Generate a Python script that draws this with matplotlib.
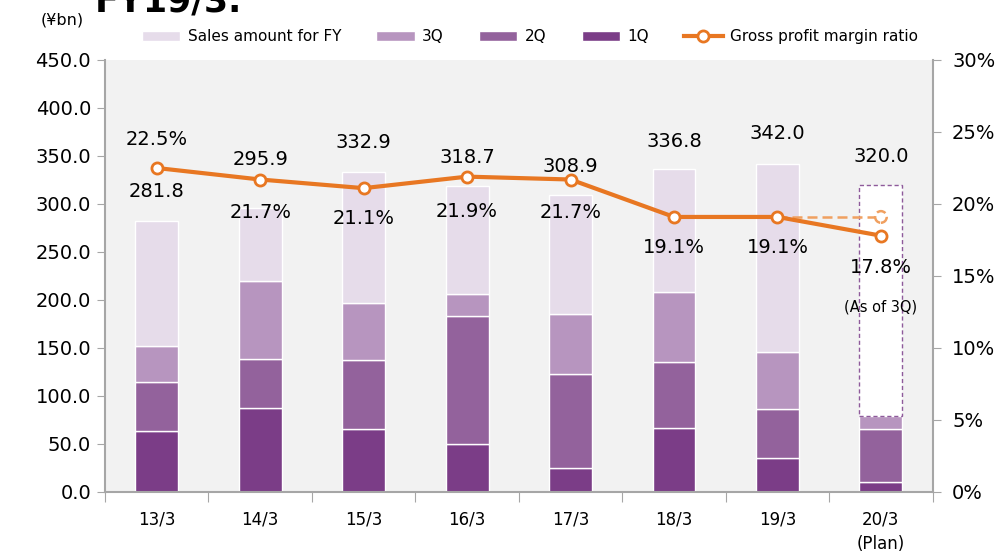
import matplotlib.pyplot as plt
import numpy as np

# Sales by quarter (¥bn) and gross profit margin (%)
years = ['13/3', '14/3', '15/3', '16/3', '17/3', '18/3', '19/3', '20/3\n(Plan)']
q1 = [63.4, 87.6, 65.9, 50.0, 25.5, 66.9, 35.5, 10.7]
q2 = [51.1, 51.4, 71.7, 133.8, 97.9, 68.6, 51.1, 55.2]
q3 = [37.9, 80.3, 59.6, 22.1, 62.1, 72.8, 59.6, 13.4]
fy_total = [281.8, 295.9, 332.9, 318.7, 308.9, 336.8, 342.0, 320.0]
margin = [22.5, 21.7, 21.1, 21.9, 21.7, 19.1, 19.1, 17.8]
margin_prev = 19.1  # dashed reference for the plan year

c_fy = '#e6dcea'
c_3q = '#b795bf'
c_2q = '#93629c'
c_1q = '#7b3d87'
c_line = '#e87722'
c_axis = '#a6a6a6'

fig = plt.figure(figsize=(10.02, 5.57), dpi=100)
ax = fig.add_axes([0.1048, 0.1167, 0.826, 0.7756])
ax.set_facecolor('#f2f2f2')

x = np.arange(len(years))
q1 = np.array(q1)
q2 = np.array(q2)
q3 = np.array(q3)
fy_total = np.array(fy_total)
cum3 = q1 + q2 + q3
rest = fy_total - cum3
w = 0.415
n = len(years)

ax.bar(x, q1, w, color=c_1q, edgecolor='white', linewidth=1, label='1Q')
ax.bar(x, q2, w, bottom=q1, color=c_2q, edgecolor='white', linewidth=1, label='2Q')
ax.bar(x, q3, w, bottom=q1 + q2, color=c_3q, edgecolor='white', linewidth=1, label='3Q')
# actual full-year remainder (all but the plan year)
ax.bar(x[:-1], rest[:-1], w, bottom=cum3[:-1], color=c_fy, edgecolor='white',
       linewidth=1, label='Sales amount for FY')
# plan year: dashed outline
ax.bar(x[-1], rest[-1], w, bottom=cum3[-1], color='white', edgecolor='#8e5a9b',
       linewidth=1, linestyle=(0, (3, 2)))

ax.set_xlim(-0.5, n - 0.5)
ax.set_ylim(0, 450)
ax.set_yticks(np.arange(0, 451, 50))
ax.set_yticklabels(['%.1f' % v for v in np.arange(0, 451, 50)], fontsize=14)
ax.set_xticks(np.arange(-0.5, n, 1))
ax.set_xticklabels([])
ax.set_xticks(x, minor=True)
ax.set_xticklabels(years, minor=True, fontsize=12, linespacing=1.5)
ax.tick_params(axis='x', which='minor', length=0, pad=13)
ax.tick_params(axis='x', which='major', length=7, color=c_axis)
ax.tick_params(axis='y', length=6, color=c_axis, pad=4)
for s in ['left', 'bottom']:
    ax.spines[s].set_color(c_axis)
    ax.spines[s].set_linewidth(1.5)
ax.spines['top'].set_visible(False)
ax.spines['right'].set_visible(False)

ax2 = ax.twinx()
ax2.patch.set_visible(False)
ax2.set_ylim(0, 30)
ax2.set_yticks(np.arange(0, 31, 5))
ax2.set_yticklabels(['%d%%' % v for v in np.arange(0, 31, 5)], fontsize=14)
ax2.tick_params(axis='y', length=6, color=c_axis, pad=8)
for s in ['left', 'bottom', 'top']:
    ax2.spines[s].set_visible(False)
ax2.spines['right'].set_color(c_axis)
ax2.spines['right'].set_linewidth(1.5)

ax2.plot([x[-2], x[-1]], [margin_prev, margin_prev], color='#f0a060', lw=1.8,
         ls=(0, (4, 2)), zorder=3)
ax2.scatter([x[-1]], [margin_prev], s=70, facecolor='white', edgecolor='#f0a060',
            linewidths=1.8, linestyles='--', zorder=4)
ax2.plot(x, margin, color=c_line, lw=3, marker='o', markersize=8,
         markerfacecolor='white', markeredgecolor=c_line, markeredgewidth=2,
         label='Gross profit margin ratio', zorder=5)

# data labels (pixel offsets chosen to avoid the line)
total_off = [30, 48, 30, 29, 29, 27, 30, 28]
margin_off = [28, -33, -30, -35, -33, -31, -31, -32]
for i in range(n):
    ax.annotate('%.1f' % fy_total[i], (x[i], fy_total[i]), textcoords='offset pixels',
                xytext=(0, total_off[i]), ha='center', va='center', fontsize=14)
    ax2.annotate('%.1f%%' % margin[i], (x[i], margin[i]), textcoords='offset pixels',
                 xytext=(0, margin_off[i]), ha='center', va='center', fontsize=14)
ax2.annotate('(As of 3Q)', (x[-1], margin[-1]), textcoords='offset pixels',
             xytext=(0, -71), ha='center', va='center', fontsize=10.5)

fig.text(0.062, 0.964, '(¥bn)', ha='center', va='center', fontsize=11.5)
fig.text(0.095, 0.979, 'FY19/3.', ha='left', va='baseline', fontsize=25,
         fontweight='bold')

h1, l1 = ax.get_legend_handles_labels()
h2, l2 = ax2.get_legend_handles_labels()
order = [3, 2, 1, 0]
handles = [h1[i] for i in order] + h2
labels = [l1[i] for i in order] + l2
fig.legend(handles, labels, loc='center', bbox_to_anchor=(0.529, 0.934), ncol=5,
           frameon=False, fontsize=11, handlelength=2.5, handleheight=0.6,
           columnspacing=2.3, handletextpad=0.5)

plt.savefig('out.png', dpi=100)
